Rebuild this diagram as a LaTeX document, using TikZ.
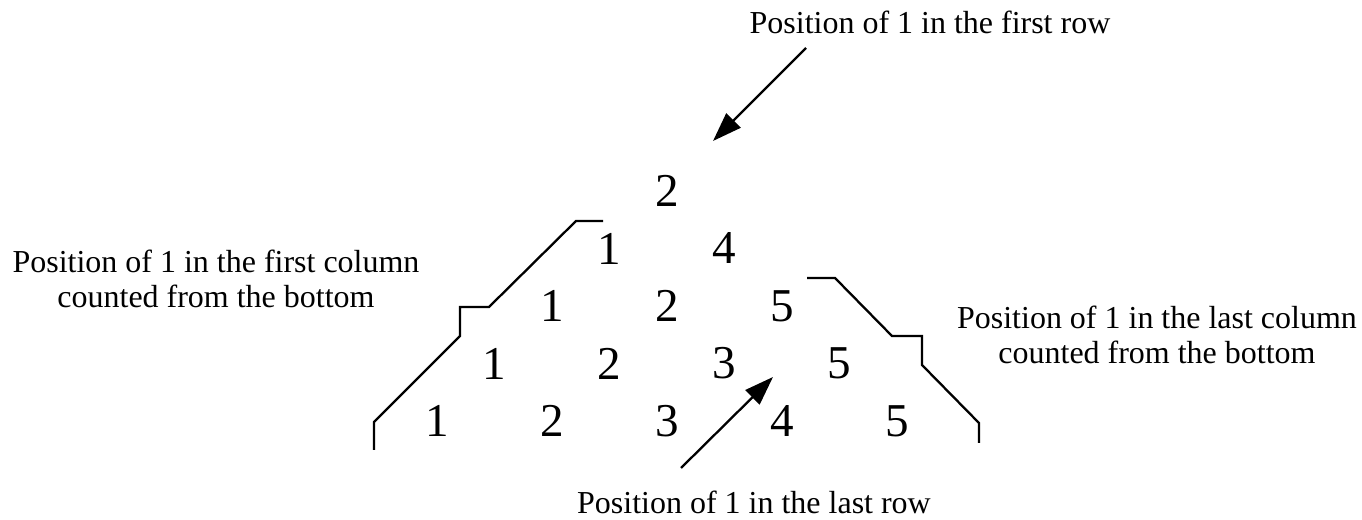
\documentclass[tikz,border=0pt]{standalone}
\usepackage{fontspec}
\setmainfont{Liberation Serif}
\usetikzlibrary{arrows.meta}

\tikzset{
  entry/.style={font=\fontsize{13.4}{16}\selectfont, inner sep=0pt},
  note/.style={font=\fontsize{9.1}{9.96}\selectfont, align=center, inner sep=0pt, anchor=base},
  stair/.style={line width=0.65pt},
  pointer/.style={line width=0.65pt, -{Triangle[length=0.29cm,width=0.2cm]}}
}

\begin{document}
\begin{tikzpicture}
    \useasboundingbox (0,0) rectangle (13.62,5.20);

    % the triangle of positions
    \node[entry] (e11) at (6.67,3.29) {2};
    \foreach \v [count=\c] in {1,4}
        \node[entry] (e2\c) at ({6.095+1.15*(\c-1)},2.715) {\v};
    \foreach \v [count=\c] in {1,2,5}
        \node[entry] (e3\c) at ({5.52+1.15*(\c-1)},2.14) {\v};
    \foreach \v [count=\c] in {1,2,3,5}
        \node[entry] (e4\c) at ({4.945+1.15*(\c-1)},1.565) {\v};
    \foreach \v [count=\c] in {1,2,3,4,5}
        \node[entry] (e5\c) at ({4.37+1.15*(\c-1)},0.99) {\v};

    % staircases
    \draw[stair] (3.74,0.70) -- (3.74,0.98) -- (4.60,1.84) -- (4.60,2.13)
        -- (4.89,2.13) -- (5.76,2.99) -- (6.03,2.99);
    \draw[stair] (8.07,2.42) -- (8.35,2.42) -- (8.92,1.84) -- (9.22,1.84)
        -- (9.22,1.55) -- (9.79,0.97) -- (9.79,0.77);

    % labels (base = last line)
    \node[note] (firstrow) at (9.30,4.86) {Position of 1 in the first row};
    \node[note] (lastrow) at (7.54,0.06) {Position of 1 in the last row};
    \node[note] (firstcol) at (2.16,2.12)
        {Position of 1 in the first column\\counted from the bottom};
    \node[note] (lastcol) at (11.57,1.56)
        {Position of 1 in the last column\\counted from the bottom};

    % arrows
    \coordinate (toptail) at (8.06,4.72);
    \coordinate (toptip) at (7.13,3.79);
    \coordinate (bottail) at (6.81,0.52);
    \coordinate (bottip) at (7.73,1.43);
    \draw[pointer] (toptail) -- (toptip);
    \draw[pointer] (bottail) -- (bottip);
\end{tikzpicture}
\end{document}
